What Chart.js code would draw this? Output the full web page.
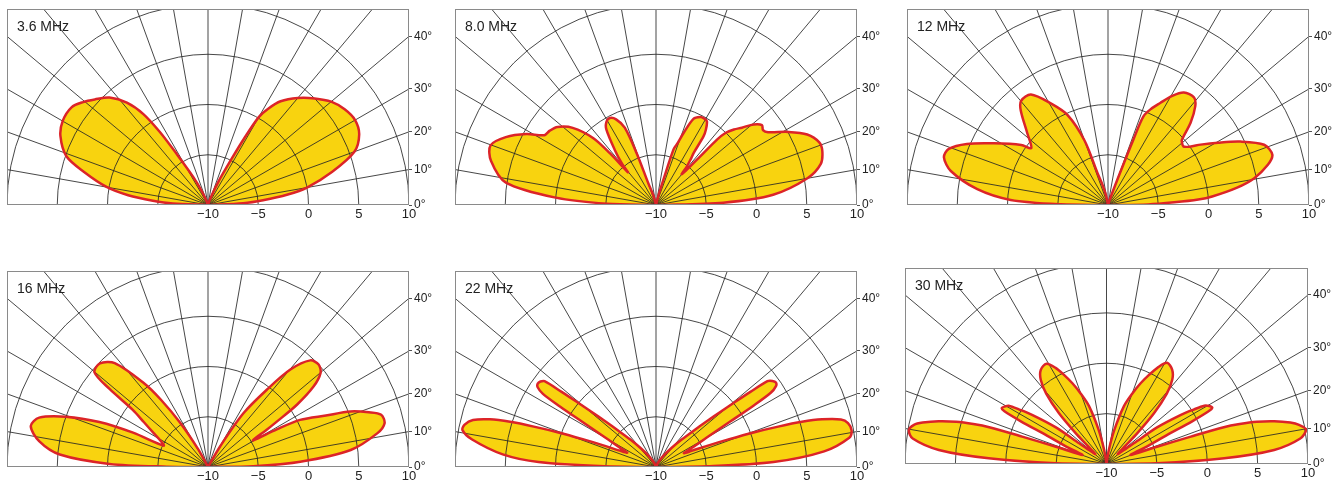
<!DOCTYPE html>
<html>
<head>
<meta charset="utf-8">
<title>Elevation patterns</title>
<script src="https://cdn.jsdelivr.net/npm/chart.js@4.4.1/dist/chart.umd.min.js"></script>
<style>
  html, body { margin: 0; padding: 0; background: #ffffff; }
  body { width: 1340px; height: 485px; position: relative; overflow: hidden; }
  canvas { position: absolute; }
</style>
</head>
<body>
<script>
// [elevation angle in degrees (0 = right horizon, 180 = left horizon), gain in dBi]
const pattern36 = [[0, -10], [3, -6.5], [5, -4.5], [7.5, -2], [10, 0], [15, 2.8], [20, 5.5], [25, 6.6], [30, 6.9], [35, 6.6], [40, 6.0], [45, 5.0], [50, 3.9], [55, 2.6], [58, 1.3], [60, 0.1], [61.5, -2.5], [63, -5], [66, -7.5], [70, -9.2], [76, -10],
  [104, -10], [110, -9.6], [114, -8.5], [117.7, -6.9], [121.5, -4.1], [123.4, -1.3], [125.4, 1.1], [128.4, 3.0], [132.5, 4.5], [137, 5.4], [140.5, 6.1], [144.4, 6.7], [150, 6.7], [155, 6.2], [161, 4.9], [165, 2.8], [170, 0.2], [173, -2], [175.5, -4.5], [177.5, -6.5], [180, -10]];

const pattern80 = [[0, -10], [2, -3.3], [5, 1.7], [10, 5.3], [14, 6.9], [18, 7.4], [21, 7.4], [25, 6.6], [29, 5.0], [33, 3.3], [35, 3.0], [37, 3.2], [39.5, 2.6], [42, 1.5], [44.1, 0.8], [46, 0], [47, -1.1], [47.7, -3.5], [49, -5.5], [50.3, -6.0], [51.3, -5.1], [52.8, -4.3], [54.1, -3.6], [55.3, -1.7], [56.5, -1.0], [58.7, -0.25], [61, -0.15], [63.3, -0.2], [66.5, -0.65], [69, -2.3], [71, -3.6], [72.5, -4.2], [73.7, -7.4], [75.5, -9], [78, -10],
  [103, -10], [105.5, -9], [107.5, -8.5], [109.5, -7.7], [110.5, -4.5], [112, -1.7], [115, -0.6], [118, -0.2], [121, -0.4], [123.3, -1.0], [126.7, -3.1], [129.5, -4.7], [130.6, -5.7], [131.7, -3.1], [133.2, -0.85], [137.2, 1.3], [141.6, 2.5], [145, 2.9], [148, 3.1], [151.3, 4.7], [155.7, 6.4], [160.2, 7.5], [165, 7.0], [171.5, 5.1], [175.8, 0], [178.5, -5.1], [180, -10]];

const pattern12 = [[0, -10], [0.8, -6], [2.3, -3.4], [3.5, -1.0], [4.7, 0.4], [7.6, 2.9], [10.4, 4.8], [14.1, 6.4], [17, 7.1], [21.1, 6.65], [25.6, 4.6], [29.5, 2.6], [33.1, 1.0], [35.5, 0.0], [37.8, -0.5], [39.8, -0.4], [41.4, -0.2], [44.9, 1.6], [48.5, 3.1], [51.3, 3.7], [56, 3.5], [59.5, 2.6], [62.9, 1.4], [65.8, 0.5], [68.2, -0.5], [68.8, -3], [69.5, -6.6], [71, -9], [73, -10],
  [98, -10], [102, -9], [105, -8], [108, -6.8], [110, -3.2], [114.2, -0.2], [119.4, 1.6], [124.9, 3.4], [129.8, 3.5], [132.7, 2.8], [138.5, 0.7], [143.5, -0.5], [145.3, 0.5], [151.6, 2.9], [156.6, 5.3], [160.6, 6.8], [163.8, 7.0], [167.8, 6.0], [173.1, 3.1], [177, -0.3], [179.2, -5.3], [180, -10]];

const pattern16 = [[0, -10], [1, -5.5], [3.3, -0.8], [6.8, 4.3], [11.3, 7.2], [13.9, 8.1], [16.8, 8.0], [18.8, 6.9], [21.3, 5.2], [23.6, 2.8], [27.1, 0.3], [28.7, -2.2], [30.5, -4.8], [31.4, -4.5], [32.3, -3.2], [33.4, -1.8], [35, 0.8], [37.3, 3.2], [39.9, 4.6], [42.8, 5.0], [46.2, 4.7], [49.8, 2.7], [52.7, -0.3], [56.6, -3.6], [59.5, -7.6], [62, -10],
  [116, -10], [119, -8], [122.2, -4.8], [125, -1.8], [127.5, 0.6], [131.9, 3.9], [136.2, 4.9], [140.2, 4.7], [141.6, 2.5], [142.8, -0.6], [145, -2.2], [148, -3.6], [151, -4.6], [154.3, -5.1], [155.4, -1.8], [157.5, 1.7], [160.5, 5.0], [163.7, 7.5], [167, 8.1], [171.3, 7.0], [175.2, 4.8], [178.2, -0.2], [179.5, -5.9], [180, -10]];

const pattern22 = [[0, -10], [0.75, -4.9], [2.4, 1.7], [5.3, 6.8], [8.6, 9.45], [10.6, 9.8], [12.9, 9.6], [14.4, 9.0], [16, 7.2], [17.2, 5.2], [18.3, 2.8], [19.5, 0.3], [20.8, -2.2], [22.5, -4.5], [24.5, -6.2], [26.5, -6.9], [28.2, -5.8], [30.1, -4.2], [31.5, -1.3], [32.2, 1.5], [32.9, 3.6], [34, 4.4], [35.2, 4.6], [36.5, 4.4], [37.6, 4.0], [38.5, 2.0], [39.5, 0], [40.5, -1.5], [42, -3.2], [44, -4.8], [47, -6.3], [51, -7.6], [57, -8.7], [65, -9.5], [75, -10],
  [105, -10], [115, -9.5], [123, -8.7], [129, -7.6], [133, -6.3], [136, -4.8], [138, -3.2], [139.5, -1.5], [140.5, 0], [141.5, 2.0], [142.4, 4.0], [143.5, 4.3], [144.8, 4.4], [146, 4.2], [147.1, 3.4], [147.8, 1.3], [148.5, -1.3], [149.9, -4.2], [151.8, -5.8], [153.5, -6.8], [155.5, -6.2], [157.5, -4.5], [159.2, -2.2], [160.5, 0.3], [161.7, 2.8], [162.8, 5.2], [164, 7.2], [165.6, 8.8], [167.5, 9.5], [169.2, 9.6], [171.5, 8.5], [175.3, 5.3], [177.6, 1.7], [179.25, -4.9], [180, -10]];

const pattern30 = [[0, -10], [0.75, -5], [2.8, 1.7], [4.8, 6.7], [7.5, 9.4], [9.8, 10.1], [11.5, 9.5], [12.7, 8.7], [14.3, 7.2], [15.7, 5.5], [16.7, 3.8], [17.4, 2.2], [18, -1.2], [18.9, -4.7], [20.6, -7.45], [23.5, -5.5], [25.5, -3.5], [26.5, -0.5], [27.3, 1.4], [28.1, 1.9], [29.5, 1.7], [30.8, 1.3], [32, 0.2], [33.5, -1.2], [35.9, -3.8], [37.1, -6.6], [39, -8], [42, -8.5], [44, -7.4], [45, -5.7], [46.9, -3.1], [49.4, -0.8], [52, 0.6], [55.1, 1.4], [59.1, 1.7], [62.1, 0.8], [64.5, -0.2], [67.1, -1.3], [70, -2.6], [73.2, -4.0], [77, -6.5], [80.5, -8.6], [85, -10],
  [95, -10], [99.5, -8.6], [103, -6.5], [106.8, -4.0], [110, -2.6], [112.9, -1.3], [115.5, -0.2], [117.9, 0.8], [120.9, 1.6], [124.9, 1.4], [128, 0.6], [130.6, -0.8], [133.1, -3.1], [135, -5.7], [136, -7.4], [138, -8.5], [141, -8], [142.9, -6.6], [144.1, -3.8], [146.5, -1.2], [148, 0.2], [149.2, 1.3], [150.5, 1.6], [151.9, 1.8], [152.7, 1.4], [153.5, -0.5], [154.5, -3.5], [156.5, -5.5], [159.4, -7.45], [161.1, -4.7], [162, -1.2], [162.6, 2.2], [163.3, 3.8], [164.3, 5.5], [165.7, 7.2], [167.3, 8.7], [168.5, 9.5], [170.3, 9.9], [172.5, 9.4], [175.2, 6.7], [177.2, 1.7], [179.25, -5], [180, -10]];

const titles = ["3.6 MHz", "8.0 MHz", "12 MHz", "16 MHz", "22 MHz", "30 MHz"];
const patterns = [pattern36, pattern80, pattern12, pattern16, pattern22, pattern30];

const floorDb = -10;
const topDb = 10;
const ringDb = [-5, 0, 5, 10];
const dbTickValues = [-10, -5, 0, 5, 10];
const dbTickLabels = ["\u221210", "\u22125", "0", "5", "10"];
const elevTicks = [0, 10, 20, 30, 40];
const elevLabels = ["0\u00b0", "10\u00b0", "20\u00b0", "30\u00b0", "40\u00b0"];
const spokeDeg = [0, 10, 20, 30, 40, 50, 60, 70, 80, 90, 100, 110, 120, 130, 140, 150, 160, 170, 180];

// plot frames on the page: left, top, right, bottom
const boxes = [
  [7, 9, 409, 205], [455, 9, 857, 205], [907, 9, 1309, 205],
  [7, 271, 409, 467], [455, 271, 857, 467], [905, 268, 1308, 464],
];

const PAD_LEFT = 6, PAD_TOP = 12, AXIS_W = 34, AXIS_H = 22;
const FILL = "#f8d30f";
const EDGE = "#dc2428";
const GRID = "#262626";
const FONT = "'Liberation Sans', Arial, Helvetica, sans-serif";

Chart.defaults.font.family = FONT;
Chart.defaults.font.size = 13;
Chart.defaults.color = "#222222";

function toPoints(pattern) {
  return pattern.map(([deg, gain]) => {
    const r = Math.max(gain - floorDb, 0);
    const t = (deg * Math.PI) / 180;
    return { x: r * Math.cos(t), y: r * Math.sin(t) };
  });
}

// rings + spokes go over the yellow fill but under the red outline
const polarGrid = {
  id: "polarGrid",
  afterDatasetDraw(chart, args) {
    if (args.index !== 1) return;
    const { ctx, chartArea: a, scales: { x, y } } = chart;
    const cx = x.getPixelForValue(0);
    const cy = y.getPixelForValue(0);
    ctx.save();
    ctx.beginPath();
    ctx.rect(a.left, a.top, a.right - a.left, a.bottom - a.top);
    ctx.clip();
    ctx.strokeStyle = GRID;
    ctx.lineWidth = 0.85;
    ringDb.forEach((db) => {
      const rad = x.getPixelForValue(db - floorDb) - cx;
      ctx.beginPath();
      ctx.arc(cx, cy, rad, Math.PI, 2 * Math.PI);
      ctx.stroke();
    });
    const far = 3 * (topDb - floorDb);
    spokeDeg.forEach((deg) => {
      const t = (deg * Math.PI) / 180;
      ctx.beginPath();
      ctx.moveTo(cx, cy);
      ctx.lineTo(x.getPixelForValue(far * Math.cos(t)), y.getPixelForValue(far * Math.sin(t)));
      ctx.stroke();
    });
    ctx.restore();
  },
  afterDraw(chart, args, opts) {
    const { ctx, chartArea: a } = chart;
    ctx.save();
    ctx.strokeStyle = "#8a8a8a";
    ctx.lineWidth = 1;
    ctx.strokeRect(a.left + 0.5, a.top + 0.5, a.right - a.left - 1, a.bottom - a.top - 1);
    ctx.fillStyle = "#222222";
    ctx.font = "14px " + FONT;
    ctx.textBaseline = "alphabetic";
    ctx.fillText(opts.title, a.left + 10, a.top + 22);
    ctx.restore();
  },
};

function drawPanel(i) {
  const [bl, bt, br, bb] = boxes[i];
  const bw = br - bl;
  const bh = bb - bt;
  const span = topDb - floorDb;
  const yMax = (bh * 2 * span) / bw;

  const canvas = document.createElement("canvas");
  canvas.width = bw + PAD_LEFT + AXIS_W;
  canvas.height = bh + PAD_TOP + AXIS_H;
  canvas.style.left = bl - PAD_LEFT + "px";
  canvas.style.top = bt - PAD_TOP + "px";
  document.body.appendChild(canvas);

  new Chart(canvas.getContext("2d"), {
    type: "scatter",
    data: {
      datasets: [
        {
          label: "outline",
          data: toPoints(patterns[i]),
          showLine: true,
          fill: false,
          borderColor: EDGE,
          borderWidth: 2.5,
          tension: 0.3,
          pointRadius: 0,
        },
        {
          label: "lobes",
          data: toPoints(patterns[i]),
          showLine: true,
          fill: "shape",
          backgroundColor: FILL,
          borderWidth: 0,
          tension: 0.3,
          pointRadius: 0,
        },
      ],
    },
    options: {
      responsive: false,
      animation: false,
      devicePixelRatio: 1,
      events: [],
      layout: { padding: { left: PAD_LEFT, top: PAD_TOP, right: 0, bottom: 0 } },
      plugins: {
        legend: { display: false },
        tooltip: { enabled: false },
        polarGrid: { title: titles[i] },
      },
      scales: {
        x: {
          type: "linear",
          position: "bottom",
          min: -span,
          max: span,
          grid: { display: false, drawTicks: false },
          border: { display: false },
          afterBuildTicks(scale) {
            scale.ticks = dbTickValues.map((d) => ({ value: d - floorDb }));
          },
          afterFit(scale) {
            scale.height = AXIS_H;
          },
          ticks: {
            autoSkip: false,
            maxRotation: 0,
            padding: 2,
            callback: (v, idx) => dbTickLabels[idx],
          },
        },
        y: {
          type: "linear",
          position: "right",
          min: 0,
          max: yMax,
          grid: { drawOnChartArea: false, drawTicks: true, tickLength: 3, color: GRID, lineWidth: 0.8 },
          border: { display: false },
          afterBuildTicks(scale) {
            scale.ticks = elevTicks.map((a) => ({ value: span * Math.tan((a * Math.PI) / 180) }));
          },
          afterFit(scale) {
            scale.width = AXIS_W;
          },
          ticks: {
            autoSkip: false,
            padding: 2,
            font: { size: 12 },
            callback: (v, idx) => elevLabels[idx],
          },
        },
      },
    },
    plugins: [polarGrid],
  });
}

patterns.forEach((p, i) => drawPanel(i));
</script>
</body>
</html>
